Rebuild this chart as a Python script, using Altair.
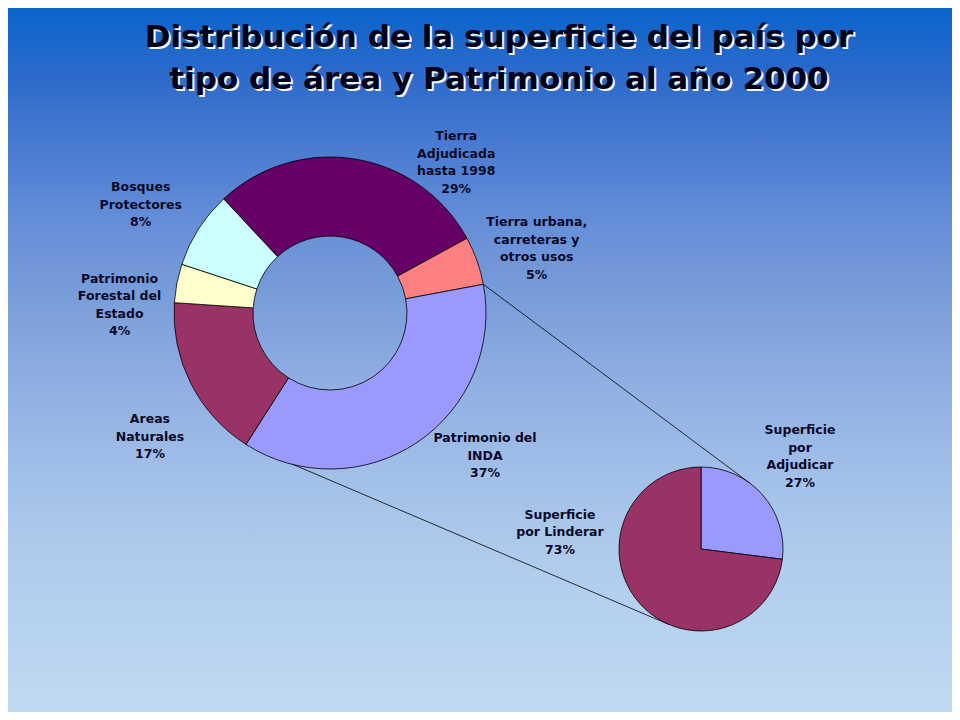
import math
import altair as alt
import pandas as pd

# ---------------- data ----------------
title_lines = ["Distribución de la superficie del país por",
               "tipo de área y Patrimonio al año 2000"]

donut_names = ["Tierra\nAdjudicada\nhasta 1998",
               "Tierra urbana,\ncarreteras y\notros usos",
               "Patrimonio del\nINDA",
               "Areas\nNaturales",
               "Patrimonio\nForestal del\nEstado",
               "Bosques\nProtectores"]
donut_pct = [29, 5, 37, 17, 4, 8]
donut_colors = ["#660066", "#FF8080", "#9999FF", "#993366", "#FFFFCC", "#CCFFFF"]

pie_names = ["Superficie\npor\nAdjudicar", "Superficie\npor Linderar"]
pie_pct = [27, 73]
pie_colors = ["#9999FF", "#993366"]

# ---------------- layout ----------------
W, H = 944, 704
D_CX, D_CY, D_RO, D_RI = 322, 305, 156, 77
D_START = math.radians(317)
P_CX, P_CY, P_R = 693, 541, 82
P_START = 0.0
FONT = "DejaVu Sans"
TXT = "#0A0A28"
LH = 17.5

donut_df = pd.DataFrame({
    "cat": [n.replace("\n", " ") for n in donut_names],
    "label": [f"{n}\n{p}%" for n, p in zip(donut_names, donut_pct)],
    "pct": donut_pct,
    "ord": list(range(len(donut_pct))),
})
pie_df = pd.DataFrame({
    "cat": [n.replace("\n", " ") for n in pie_names],
    "label": [f"{n}\n{p}%" for n, p in zip(pie_names, pie_pct)],
    "pct": pie_pct,
    "ord": list(range(len(pie_pct))),
})

# background
bg_stops = [(0, "#0A64CC"), (80, "#2E6BCB"), (150, "#4A7CD2"), (230, "#6890D8"),
            (300, "#7A9EDA"), (380, "#8FAEE2"), (500, "#A6C4EA"), (580, "#B2CEEE"),
            (720, "#C0DAF2")]
grad = alt.Gradient(
    gradient="linear", x1=0, x2=0, y1=0, y2=1,
    stops=[alt.GradientStop(offset=min(1, max(0, (y - 8) / H)), color=c) for y, c in bg_stops],
)
one = pd.DataFrame({"k": [0]})
background = alt.Chart(one).mark_rect(fill=grad).encode(
    x=alt.value(0), x2=alt.value(W), y=alt.value(0), y2=alt.value(H))

# title with light shadow
title_df = pd.DataFrame({"t": ["\n".join(title_lines)]})
def title_layer(color, off):
    return alt.Chart(title_df).mark_text(
        font=FONT, fontWeight="bold", fontSize=31, lineBreak="\n", lineHeight=42,
        align="center", baseline="alphabetic", color=color,
    ).encode(text="t:N", x=alt.value(491 + off), y=alt.value(39 + off))
title_shadow = title_layer("#F4F6FF", 2)
title_main = title_layer("#000018", 0)

# donut
d_theta_scale = alt.Scale(range=[D_START, D_START + 2 * math.pi])
donut = alt.Chart(donut_df).mark_arc(
    innerRadius=D_RI, outerRadius=D_RO, stroke="#000000", strokeWidth=0.8
).encode(
    theta=alt.Theta("pct:Q", scale=d_theta_scale),
    order=alt.Order("ord:Q"),
    color=alt.Color("cat:N", scale=alt.Scale(domain=list(donut_df["cat"]), range=donut_colors), legend=None),
    x=alt.value(D_CX), y=alt.value(D_CY),
)

# pie
p_theta_scale = alt.Scale(range=[P_START, P_START + 2 * math.pi])
pie = alt.Chart(pie_df).mark_arc(
    outerRadius=P_R, stroke="#000000", strokeWidth=0.8
).encode(
    theta=alt.Theta("pct:Q", scale=p_theta_scale),
    order=alt.Order("ord:Q"),
    color=alt.Color("cat:N", scale=alt.Scale(domain=list(pie_df["cat"]), range=pie_colors), legend=None),
    x=alt.value(P_CX), y=alt.value(P_CY),
)

# labels: anchored at slice mid-angle, nudged like the original (block centred vertically)
def label_layers(df, cx, cy, start, radius, nudges):
    layers = []
    base = alt.Chart(df).transform_window(
        cum="sum(pct)", sort=[alt.SortField("ord")], frame=[None, 0]
    ).transform_calculate(mid="datum.cum - datum.pct / 2")
    for i, (dx, dy) in enumerate(nudges):
        n_lines = df["label"].iloc[i].count("\n") + 1
        layers.append(
            base.transform_filter(alt.datum.ord == i).mark_text(
                radius=radius, dx=dx, dy=dy - (n_lines - 1) * LH / 2,
                font=FONT, fontWeight="bold", fontSize=12.5,
                lineBreak="\n", lineHeight=LH, align="center", baseline="middle", color=TXT,
            ).encode(
                theta=alt.Theta("mid:Q", stack=None,
                                scale=alt.Scale(domain=[0, 100], range=[start, start + 2 * math.pi])),
                text="label:N", x=alt.value(cx), y=alt.value(cy),
            )
        )
    return layers

donut_labels = label_layers(donut_df, D_CX, D_CY, D_START, 195,
                            [(95, 42), (23, 1), (46, -19), (-6, 36), (-19, 29), (-25, -3)])
pie_labels = label_layers(pie_df, P_CX, P_CY, P_START, 120, [(9, -13), (-51, -96)])

# connector lines from the exploded slice (Patrimonio del INDA) to the secondary pie
total = sum(donut_pct)
idx = 2
a1 = D_START + 2 * math.pi * sum(donut_pct[:idx]) / total
a2 = D_START + 2 * math.pi * sum(donut_pct[:idx + 1]) / total
def polar(cx, cy, r, a):
    return cx + r * math.sin(a), cy - r * math.cos(a)
def tangent(px, py, cx, cy, r, sign):
    vx, vy = px - cx, py - cy
    d = math.hypot(vx, vy)
    alpha = math.acos(r / d)
    base = math.atan2(vy, vx) + sign * alpha
    return cx + r * math.cos(base), cy + r * math.sin(base)
p1 = polar(D_CX, D_CY, D_RO, a1)
p2 = polar(D_CX, D_CY, D_RO, a2)
t1 = tangent(p1[0], p1[1], P_CX, P_CY, P_R, 1)
t2 = tangent(p2[0], p2[1], P_CX, P_CY, P_R, -1)
conn_df = pd.DataFrame({"x": [p1[0], p2[0]], "y": [p1[1], p2[1]],
                        "x2": [t1[0], t2[0]], "y2": [t1[1], t2[1]]})
connectors = alt.Chart(conn_df).mark_rule(color="#000000", strokeWidth=0.8).encode(
    x=alt.X("x:Q", scale=None, axis=None), y=alt.Y("y:Q", scale=None, axis=None),
    x2="x2:Q", y2="y2:Q")

chart = alt.layer(
    background, connectors, donut, pie, title_shadow, title_main, *donut_labels, *pie_labels
).resolve_scale(
    theta="independent", color="independent", x="independent", y="independent"
).properties(
    width=W, height=H, padding=0, autosize=alt.AutoSizeParams(type="none")
).configure_view(stroke=None)

chart.save("out.html", embed_options={"renderer": "svg", "actions": False})
